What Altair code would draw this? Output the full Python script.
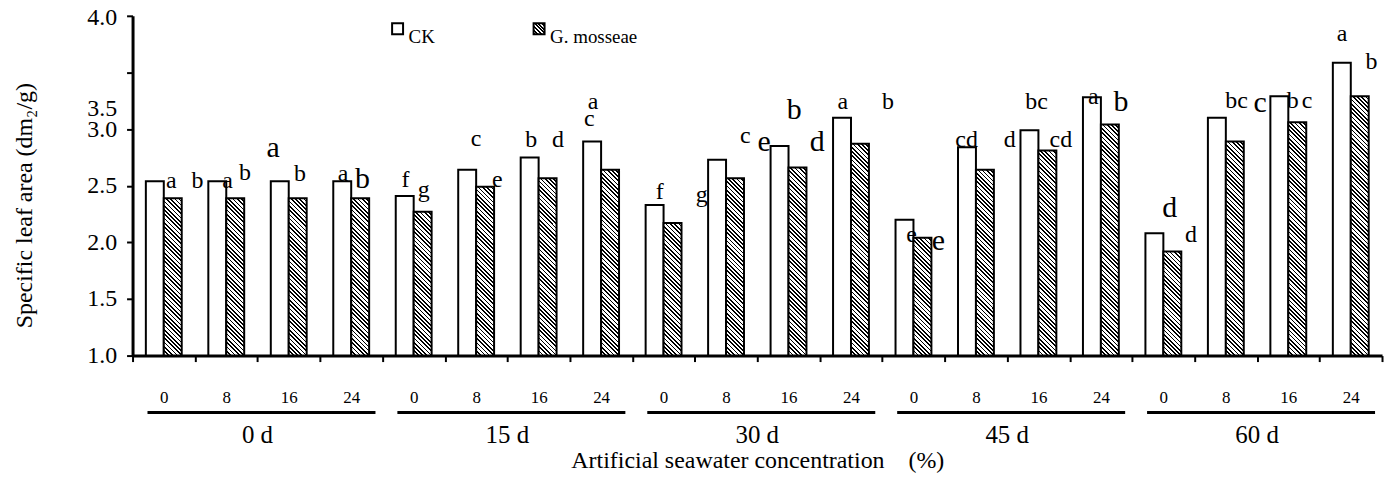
import altair as alt
import pandas as pd

# ---------------- data ----------------
groups = ["0 d", "15 d", "30 d", "45 d", "60 d"]
concs = ["0", "8", "16", "24"]
series = ["CK", "G. mosseae"]
ck_values = [2.54, 2.54, 2.54, 2.54, 2.41, 2.64, 2.75, 2.89, 2.33, 2.73,
             2.85, 3.10, 2.20, 2.84, 2.99, 3.28, 2.08, 3.10, 3.29, 3.585]
gm_values = [2.39, 2.39, 2.39, 2.39, 2.27, 2.49, 2.565, 2.64, 2.17, 2.565,
             2.66, 2.87, 2.04, 2.64, 2.81, 3.04, 1.92, 2.89, 3.06, 3.29]
y_ticks = [1.0, 1.5, 2.0, 2.5, 3.0, 3.5, 4.0]

# significance letters: text, position along the category axis (in groups), height (value units), big glyph?
letter_text = ["a", "b", "a", "b", "a", "b", "a", "b",
               "f", "g", "c", "e", "b", "d", "a", "c",
               "f", "g", "c", "e", "b", "d", "a", "b",
               "e", "e", "cd", "d", "bc", "cd", "a", "b",
               "d", "d", "bc", "c", "b", "c", "a", "b"]
letter_x = [0.62, 1.04, 1.52, 1.80, 2.25, 2.68, 3.37, 3.68,
            4.37, 4.66, 5.50, 5.84, 6.38, 6.81, 7.37, 7.31,
            8.44, 9.11, 9.81, 10.11, 10.59, 10.96, 11.37, 12.09,
            12.47, 12.90, 13.35, 14.04, 14.47, 14.86, 15.38, 15.82,
            16.60, 16.94, 17.67, 18.05, 18.57, 18.80, 19.36, 19.83]
letter_y = [2.48, 2.48, 2.48, 2.55, 2.75, 2.54, 2.54, 2.48,
            2.49, 2.40, 2.85, 2.49, 2.84, 2.84, 3.18, 3.03,
            2.38, 2.36, 2.88, 2.81, 3.09, 2.81, 3.18, 3.18,
            2.00, 1.93, 2.84, 2.84, 3.18, 2.84, 3.22, 3.16,
            2.22, 2.00, 3.19, 3.15, 3.19, 3.19, 3.78, 3.53]
letter_big = [0, 0, 0, 0, 1, 0, 0, 1,
              0, 0, 0, 0, 0, 0, 0, 0,
              0, 0, 0, 1, 1, 1, 0, 0,
              0, 1, 0, 0, 0, 0, 0, 1,
              1, 0, 0, 1, 0, 0, 0, 0]

# ---------------- layout / style ----------------
SERIF = "Liberation Serif, Times New Roman, DejaVu Serif, serif"
W, H = 1254, 341
N = len(groups) * len(concs)
BAND = W / N
BAR_W = 18.0
PAD_OUT = (BAND / BAR_W - 2) / 2
PX_PER_UNIT = H / 3.0


def hatch(w, h, period=4.3, frac=0.4):
    n = max(1, round((w + h) / period))
    d = w * w + h * h
    x2 = w * (w + h) / d
    y2 = 1 - h * (w + h) / d
    stops = []
    for i in range(n):
        a, b, c = i / n, (i + frac) / n, (i + 1) / n
        stops += [{"offset": round(a, 5), "color": "black"},
                  {"offset": round(b, 5), "color": "black"},
                  {"offset": round(b, 5), "color": "white"},
                  {"offset": round(c, 5), "color": "white"}]
    return {"gradient": "linear", "x1": 0, "y1": 1, "x2": round(x2, 5),
            "y2": round(y2, 5), "stops": stops}


cats = [f"{g}|{c}" for g in groups for c in concs]
rows = []
for i, cat in enumerate(cats):
    rows.append({"idx": i, "cat": cat, "series": series[0], "value": ck_values[i]})
    rows.append({"idx": i, "cat": cat, "series": series[1], "value": gm_values[i]})
df = pd.DataFrame(rows)

conds = []
for i, v in enumerate(gm_values):
    conds.append({"test": f"datum.series == '{series[1]}' && datum.idx == {i}",
                  "value": hatch(BAR_W, (v - 1.0) * PX_PER_UNIT)})

yscale = alt.Scale(domain=[1, 4], zero=False, nice=False)
xlin = alt.Scale(domain=[0, N], zero=False, nice=False)

bars = alt.Chart(df).mark_bar(stroke="black", strokeWidth=2).encode(
    x=alt.X("cat:N", sort=cats,
            scale=alt.Scale(domain=cats, paddingInner=0, paddingOuter=0),
            axis=alt.Axis(labelExpr="split(datum.value, '|')[1]", labelAngle=0,
                          labelFont=SERIF, labelFontSize=17, labelPadding=28,
                          tickSize=6, tickWidth=2, tickBand="extent", domainWidth=3,
                          title="Artificial seawater concentration\u2003(%)",
                          titleFont=SERIF, titleFontSize=24, titleFontWeight="normal",
                          titleY=112, titleBaseline="alphabetic")),
    xOffset=alt.XOffset("series:N", sort=series,
                        scale=alt.Scale(domain=series, paddingInner=0, paddingOuter=PAD_OUT)),
    y=alt.Y("value:Q", scale=yscale,
            axis=alt.Axis(values=y_ticks, format=".1f", labelFont=SERIF, labelFontSize=24,
                          labelOffset={"condition": [
                              {"test": "datum.value == 3.5", "value": 36},
                              {"test": "datum.value == 4", "value": 2}],
                              "value": 0},
                          labelOverlap=False, labelFlush=False, labelBound=False,
                          labelPadding=10, tickSize=6, tickWidth=2, domainWidth=3, grid=False,
                          title="Specific leaf area (dm\u2082/g)", titleFont=SERIF,
                          titleFontSize=24, titleFontWeight="normal",
                          titleX=-108, titleY=190, titleBaseline="middle")),
    y2=alt.datum(1),
    fill={"condition": conds, "value": "white"},
)

ldf = pd.DataFrame({"t": letter_text, "u": letter_x, "v": letter_y,
                    "fs": [30 if b else 24 for b in letter_big]})
letters = alt.Chart(ldf).mark_text(font=SERIF, align="center", baseline="alphabetic",
                                   color="black").encode(
    x=alt.X("u:Q", scale=xlin, axis=None),
    y=alt.Y("v:Q", scale=yscale, axis=None),
    text="t:N",
    size=alt.Size("fs:Q", scale=None, legend=None),
)

gdf = pd.DataFrame({"g": groups,
                    "start": [i * len(concs) for i in range(len(groups))],
                    "end": [(i + 1) * len(concs) for i in range(len(groups))]})
glines = alt.Chart(gdf).mark_rule(color="black", strokeWidth=3, xOffset=15, x2Offset=-7).encode(
    x=alt.X("start:Q", scale=xlin, axis=None),
    x2="end:Q",
    y=alt.value(398),
)
gtext = alt.Chart(gdf).transform_calculate(mid="(datum.start + datum.end) / 2").mark_text(
    font=SERIF, fontSize=25, align="center", baseline="alphabetic", color="black").encode(
    x=alt.X("mid:Q", scale=xlin, axis=None),
    y=alt.value(429),
    text="g:N",
)

sdf = pd.DataFrame({"s": series})
leg_ck_box = alt.Chart(sdf).transform_filter(f"datum.s == '{series[0]}'").mark_square(
    size=121, fill="white", stroke="black", strokeWidth=2, opacity=1).encode(
    x=alt.value(266), y=alt.value(13))
leg_gm_box = alt.Chart(sdf).transform_filter(f"datum.s == '{series[1]}'").mark_square(
    size=121, fill=hatch(11, 11, period=3.5, frac=0.5), stroke="black", strokeWidth=2,
    opacity=1).encode(x=alt.value(408), y=alt.value(13))
leg_ck_txt = alt.Chart(sdf).transform_filter(f"datum.s == '{series[0]}'").mark_text(
    font=SERIF, fontSize=19, align="left", baseline="alphabetic", color="black").encode(
    x=alt.value(277), y=alt.value(27), text="s:N")
leg_gm_txt = alt.Chart(sdf).transform_filter(f"datum.s == '{series[1]}'").mark_text(
    font=SERIF, fontSize=19, align="left", baseline="alphabetic", color="black").encode(
    x=alt.value(419), y=alt.value(27), text="s:N")

chart = alt.layer(
    bars, glines, gtext, letters, leg_ck_box, leg_gm_box, leg_ck_txt, leg_gm_txt
).resolve_scale(x="independent").resolve_axis(x="independent", y="independent").properties(
    width=W, height=H,
    autosize=alt.AutoSizeParams(type="none"),
    padding={"left": 125, "top": 7, "right": 5, "bottom": 120},
).configure_view(stroke=None).configure_axis(
    labelColor="black", titleColor="black", tickColor="black", domainColor="black"
)

chart.save("out.html", embed_options={"renderer": "svg", "actions": False})
